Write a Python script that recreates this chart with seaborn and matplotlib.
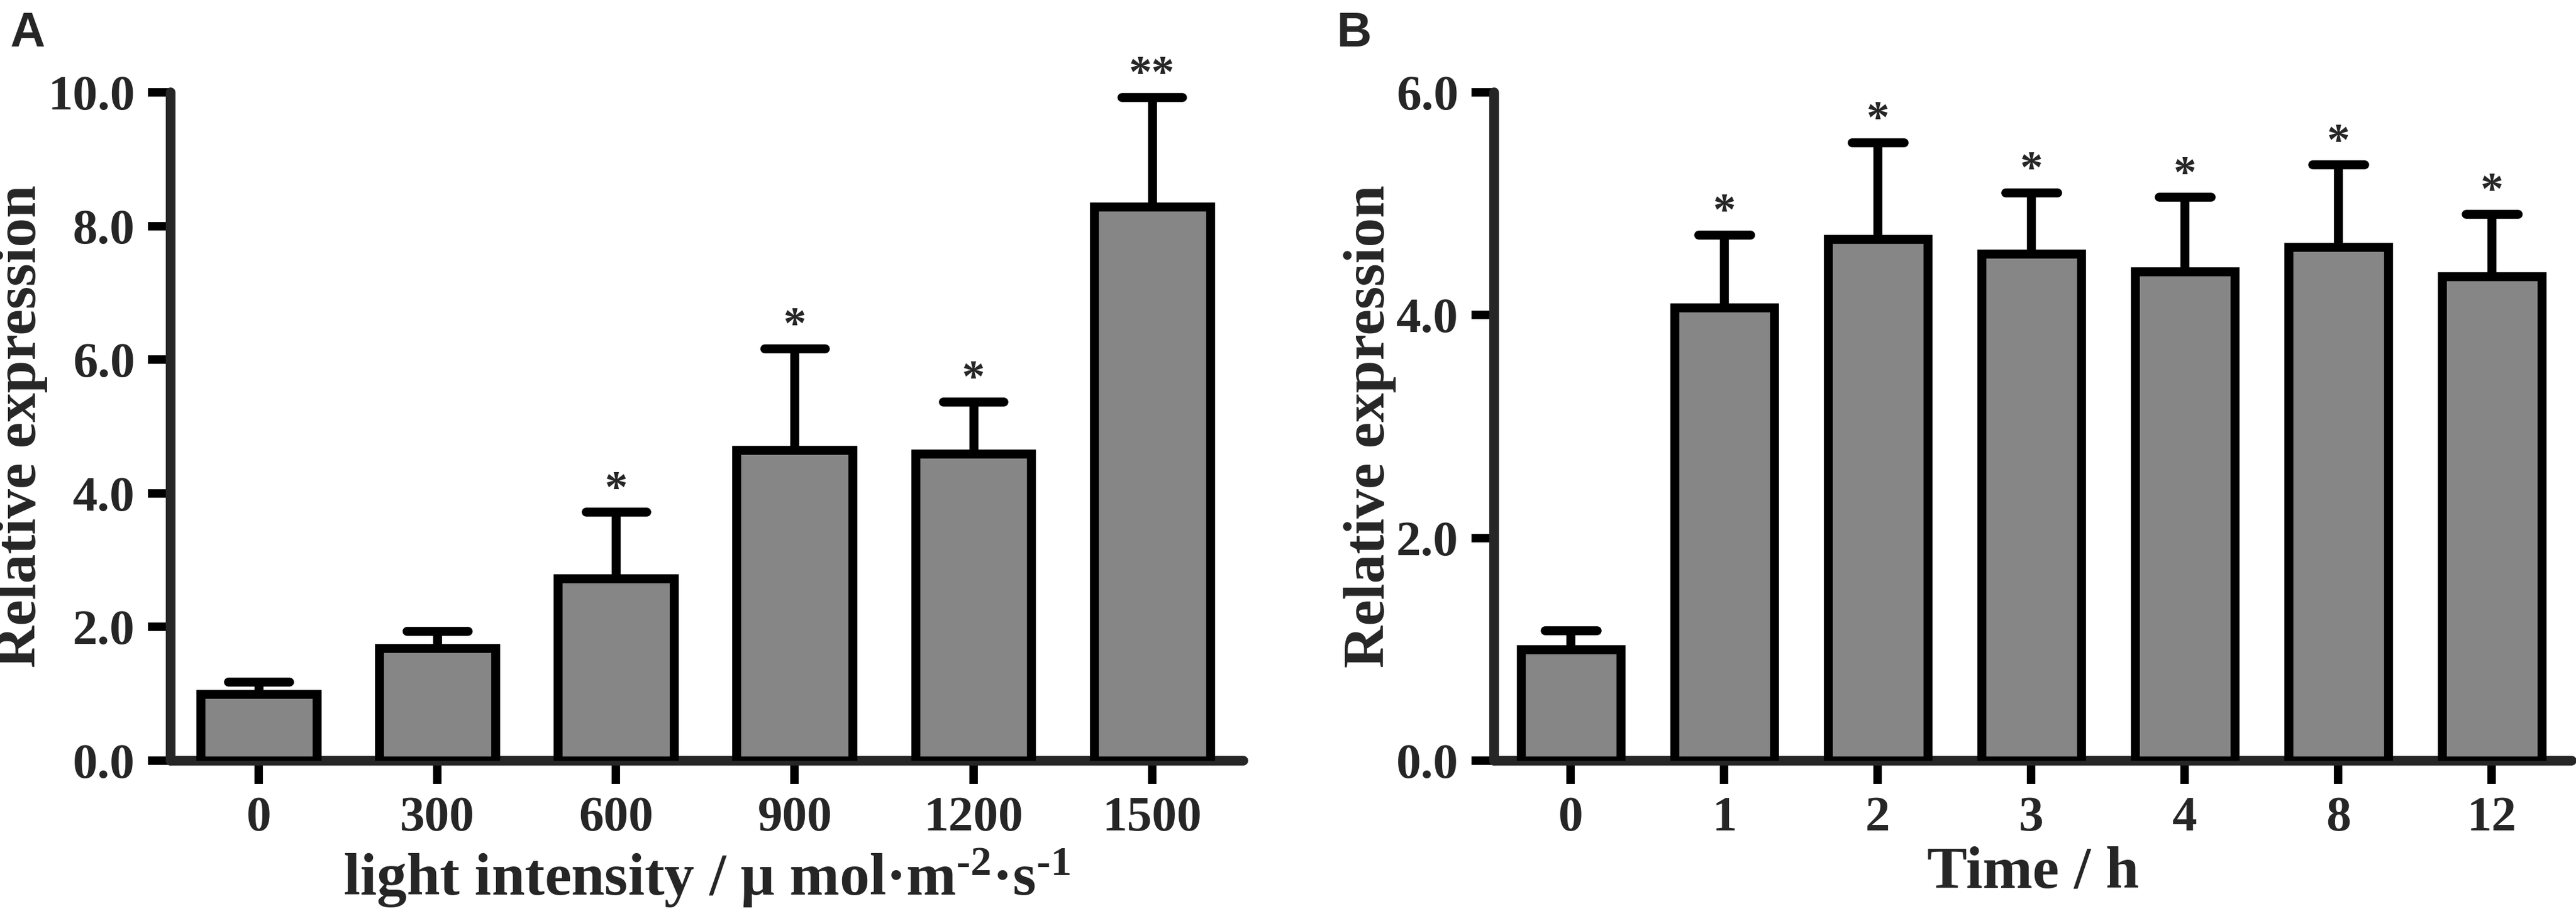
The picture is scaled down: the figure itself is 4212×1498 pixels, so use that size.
import numpy as np
import pandas as pd
import matplotlib
matplotlib.use("Agg")
import matplotlib.pyplot as plt
import seaborn as sns

# panel A: light intensity series
light_levels = ["0", "300", "600", "900", "1200", "1500"]
light_mean = [1.00, 1.68, 2.73, 4.65, 4.59, 8.29]
light_sd = [0.18, 0.26, 0.99, 1.52, 0.78, 1.64]
light_sig = ["", "", "*", "*", "*", "**"]

# panel B: time course
time_points = ["0", "1", "2", "3", "4", "8", "12"]
time_mean = [1.00, 4.07, 4.68, 4.55, 4.39, 4.61, 4.35]
time_sd = [0.17, 0.65, 0.87, 0.55, 0.67, 0.74, 0.56]
time_sig = ["", "*", "*", "*", "*", "*", "*"]

sns.set_style("ticks")
plt.rcParams['font.family'] = ['Liberation Serif', 'DejaVu Serif']
plt.rcParams['font.weight'] = 'bold'
plt.rcParams['mathtext.fontset'] = 'custom'
plt.rcParams['mathtext.rm'] = 'Liberation Serif:bold'
plt.rcParams['mathtext.bf'] = 'Liberation Serif:bold'
plt.rcParams['mathtext.it'] = 'Liberation Serif:bold:italic'

BAR_GRAY = "#868686"
LW = 3.5


def draw_panel(ax, cats, means, sds, sig, ymax, xlabel, xlim):
    df = pd.DataFrame({'cat': cats, 'mean': means, 'sd': sds})
    sns.barplot(data=df, x='cat', y='mean', order=cats, color=BAR_GRAY, saturation=1,
                edgecolor='black', linewidth=LW, width=0.65, errorbar=None, ax=ax, zorder=3)
    x = np.arange(len(cats))
    m = np.array(means)
    s = np.array(sds)
    # upper error bars only, with round-ended caps
    ax.vlines(x, m, m + s, color='black', linewidth=LW, zorder=2)
    ax.hlines(m + s, x - 0.17, x + 0.17, color='black', linewidth=LW, capstyle='round', zorder=2)
    for xi, top, star in zip(x, m + s, sig):
        if star:
            ax.annotate(star, (xi, top), xytext=(0, 4), textcoords='offset points',
                        ha='center', va='baseline', fontsize=18, fontweight='bold')

    ax.set_xlim(*xlim)
    ax.set_ylim(0, ymax)
    ax.set_yticks(np.arange(0, ymax + 0.01, 2.0))
    ax.set_yticklabels([f"{v:.1f}" for v in np.arange(0, ymax + 0.01, 2.0)])
    sns.despine(ax=ax)
    for sp in ['left', 'bottom']:
        ax.spines[sp].set_linewidth(3.8)
        ax.spines[sp].set_capstyle('round')
    ax.tick_params(axis='both', direction='out', length=9, width=3.3, labelsize=19.5, pad=5, color='black')
    ax.set_xlabel(xlabel, fontsize=23.5, fontweight='bold', labelpad=2)
    ax.set_ylabel("Relative expression", fontsize=23, fontweight='bold', labelpad=0)
    ax.grid(False)


fig = plt.figure(figsize=(4212 / 300, 1498 / 300), dpi=300)
ax_a = fig.add_axes([0.0662, 0.1696, 0.4164, 0.7296])
ax_b = fig.add_axes([0.5800, 0.1696, 0.4183, 0.7296])

draw_panel(ax_a, light_levels, light_mean, light_sd, light_sig, 10.0,
           r"light intensity / μ mol·m$^{\text{-2}}$·s$^{\text{-1}}$", (-0.493, 5.51))
draw_panel(ax_b, time_points, time_mean, time_sd, time_sig, 6.0,
           "Time / h", (-0.50, 6.52))

fig.text(0.0038, 0.988, "A", fontsize=19, fontweight='bold', family=['Liberation Sans', 'DejaVu Sans'],
         ha='left', va='top')
fig.text(0.519, 0.988, "B", fontsize=19, fontweight='bold', family=['Liberation Sans', 'DejaVu Sans'],
         ha='left', va='top')

fig.savefig("out.png", dpi=300, facecolor='white')
